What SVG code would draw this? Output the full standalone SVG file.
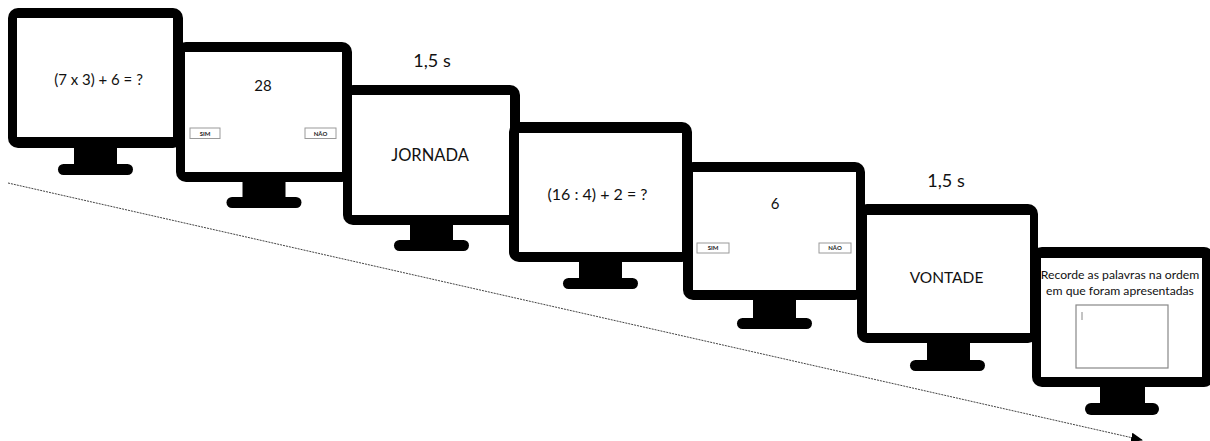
<svg xmlns="http://www.w3.org/2000/svg" width="1210" height="441" viewBox="0 0 1210 441">
  <defs>
    <style>
      .frame { fill: #000; }
      .screen { fill: #fff; }
      .txt { font-family: Lato, "Open Sans", sans-serif; fill: #111; text-anchor: middle; }
      .btn { fill: #fff; stroke: #9a9a9a; stroke-width: 1; }
      .btxt { font-family: Lato, "Open Sans", sans-serif; font-size: 6px; font-weight: bold; fill: #222; text-anchor: middle; }
      .box { fill: #fff; stroke: #888; stroke-width: 1.2; }
      .timeline { fill: none; stroke: #444; stroke-width: 1; stroke-dasharray: 2 1; }
    </style>
    <marker id="arrowHead" viewBox="0 0 12 10" refX="11" refY="5" markerWidth="12" markerHeight="10" markerUnits="userSpaceOnUse" orient="auto">
      <path d="M0,0 L12,5 L0,10 Z" fill="#000"/>
    </marker>
  </defs>

  <!-- time axis -->
  <g id="connectors">
    <line class="timeline" x1="8" y1="183" x2="1142" y2="440" marker-end="url(#arrowHead)"/>
  </g>

  <!-- screen 1: first equation -->
  <g id="screen1">
    <rect class="frame" x="8" y="8" width="175" height="140" rx="10"/>
    <rect class="screen" x="17" y="18" width="156" height="119"/>
    <rect class="frame" x="74" y="146" width="43" height="20"/>
    <rect class="frame" x="58" y="164" width="75" height="11" rx="5.5"/>
    <text class="txt" x="98.5" y="85" font-size="15">(7 x 3) + 6 = ?</text>
  </g>

  <!-- screen 2: answer check -->
  <g id="screen2">
    <rect class="frame" x="176" y="42" width="176" height="140" rx="10"/>
    <rect class="screen" x="185" y="52" width="157" height="120"/>
    <rect class="frame" x="242.5" y="180" width="43" height="19"/>
    <rect class="frame" x="226.5" y="197" width="75" height="11" rx="5.5"/>
    <text class="txt" x="263" y="91" font-size="15">28</text>
    <rect class="btn" x="190" y="128" width="30" height="10.5"/>
    <text class="btxt" x="205" y="135.5">SIM</text>
    <rect class="btn" x="305" y="128" width="31" height="10.5"/>
    <text class="btxt" x="320.5" y="135.5">NÃO</text>
  </g>

  <!-- screen 3: word -->
  <g id="screen3">
    <text class="txt" x="432" y="67" font-size="18">1,5 s</text>
    <rect class="frame" x="343" y="85" width="177" height="140" rx="10"/>
    <rect class="screen" x="352" y="95" width="158" height="120"/>
    <rect class="frame" x="410" y="223" width="43" height="19"/>
    <rect class="frame" x="394" y="240" width="75" height="11" rx="5.5"/>
    <text class="txt" x="430" y="161" font-size="16.5">JORNADA</text>
  </g>

  <!-- screen 4: second equation -->
  <g id="screen4">
    <rect class="frame" x="509" y="122" width="183" height="140" rx="10"/>
    <rect class="screen" x="519" y="133" width="163" height="119"/>
    <rect class="frame" x="579" y="260" width="43" height="20"/>
    <rect class="frame" x="563" y="278" width="75" height="11" rx="5.5"/>
    <text class="txt" x="597.5" y="200" font-size="16">(16 : 4) + 2 = ?</text>
  </g>

  <!-- screen 5: answer check -->
  <g id="screen5">
    <rect class="frame" x="683" y="162" width="182" height="138" rx="10"/>
    <rect class="screen" x="693" y="172" width="163" height="118"/>
    <rect class="frame" x="753" y="298" width="43" height="22"/>
    <rect class="frame" x="737" y="318" width="75" height="11" rx="5.5"/>
    <text class="txt" x="775" y="209" font-size="15">6</text>
    <rect class="btn" x="697" y="243" width="32" height="10"/>
    <text class="btxt" x="713" y="250.2">SIM</text>
    <rect class="btn" x="819" y="243" width="32" height="10"/>
    <text class="btxt" x="835" y="250.2">NÃO</text>
  </g>

  <!-- screen 6: word -->
  <g id="screen6">
    <text class="txt" x="946" y="187" font-size="18">1,5 s</text>
    <rect class="frame" x="857" y="204" width="181" height="139" rx="10"/>
    <rect class="screen" x="867" y="215" width="163" height="118"/>
    <rect class="frame" x="927" y="341" width="43" height="21"/>
    <rect class="frame" x="910" y="360" width="75" height="11" rx="5.5"/>
    <text class="txt" x="946.5" y="283" font-size="15.5">VONTADE</text>
  </g>

  <!-- screen 7: recall -->
  <g id="screen7">
    <rect class="frame" x="1032" y="247" width="182" height="140" rx="10"/>
    <rect class="screen" x="1041" y="258" width="161" height="119"/>
    <rect class="frame" x="1100" y="385" width="45" height="20"/>
    <rect class="frame" x="1085" y="403" width="74" height="12" rx="6"/>
    <text class="txt" x="1120" y="279" font-size="12.2">Recorde as palavras na ordem</text>
    <text class="txt" x="1120" y="295" font-size="12.2">em que foram apresentadas</text>
    <rect class="box" x="1076" y="305" width="92" height="63"/>
    <line x1="1082" y1="312" x2="1082" y2="320" stroke="#888" stroke-width="1"/>
  </g>
</svg>
